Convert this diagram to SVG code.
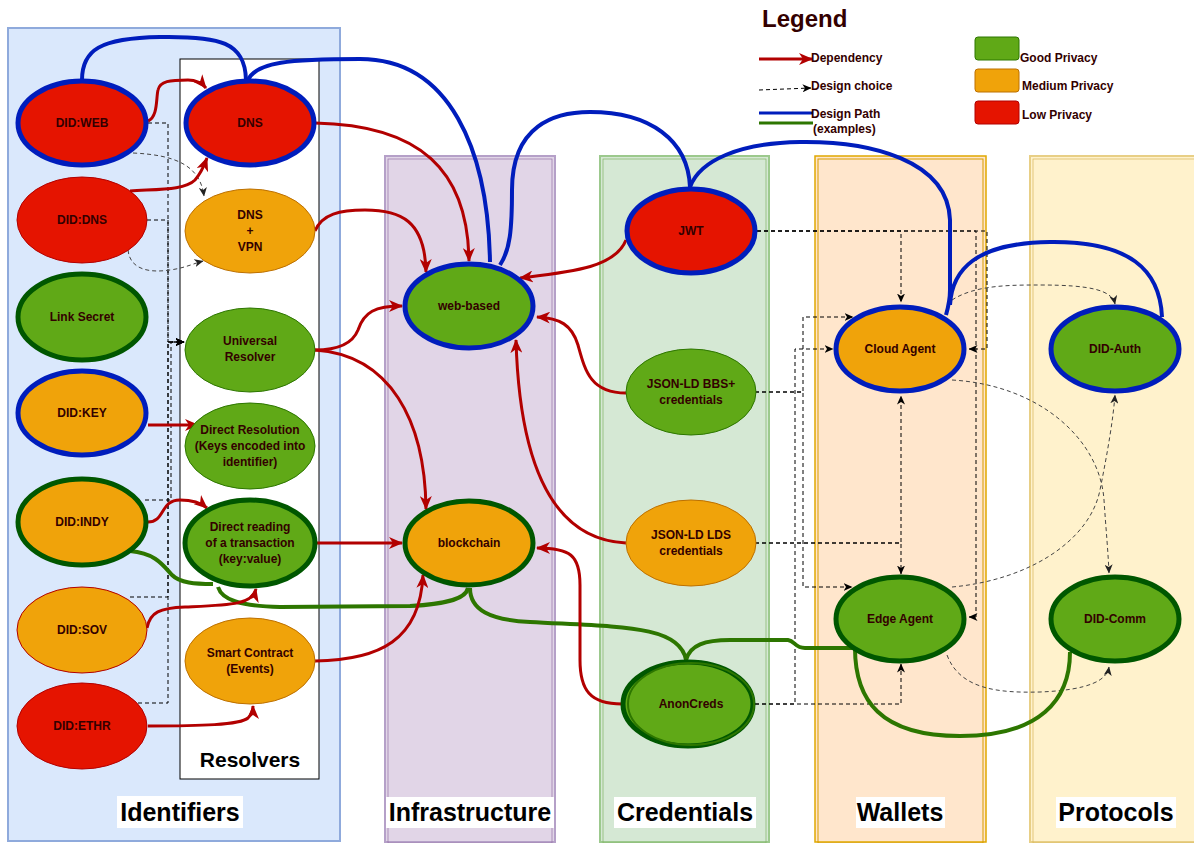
<svg xmlns="http://www.w3.org/2000/svg" width="1194" height="843" viewBox="0 0 1194 843">
<style>
text{font-family:"Liberation Sans",Arial,sans-serif;font-weight:bold}
.nt{font-size:12px;fill:#330000;text-anchor:middle}
.pl{font-size:25px;fill:#000;text-anchor:middle}
.lg{font-size:12px;fill:#330000}
.dep{fill:none;stroke:#b20000;stroke-width:3;marker-end:url(#ar)}
.dc{fill:none;stroke:#000;stroke-width:1;stroke-dasharray:4,3;marker-end:url(#ad)}
.dcg{fill:none;stroke:#444;stroke-width:1;stroke-dasharray:4,3;marker-end:url(#ag)}
.bp{fill:none;stroke:#001dbc;stroke-width:4}
.gp{fill:none;stroke:#2d7600;stroke-width:4}
.red{fill:#e51400}
.org{fill:#f0a30a}
.grn{fill:#60a917}
.thr{stroke:#b20000;stroke-width:1}
.tho{stroke:#bd7000;stroke-width:1}
.thg{stroke:#2d7600;stroke-width:1}
.tkb{stroke:#001dbc;stroke-width:5}
.tkg{stroke:#005700;stroke-width:5}
</style>
<defs>
<marker id="ar" markerUnits="userSpaceOnUse" markerWidth="14" markerHeight="12" refX="13" refY="6" orient="auto">
<path d="M0,0 L14,6 L0,12 L4,6 Z" fill="#b20000"/>
</marker>
<marker id="ad" markerUnits="userSpaceOnUse" markerWidth="9" markerHeight="8" refX="8.5" refY="4" orient="auto">
<path d="M0,0 L9,4 L0,8 L2.5,4 Z" fill="#000"/>
</marker>
<marker id="ag" markerUnits="userSpaceOnUse" markerWidth="9" markerHeight="8" refX="8.5" refY="4" orient="auto">
<path d="M0,0 L9,4 L0,8 L2.5,4 Z" fill="#222"/>
</marker>
</defs>
<rect width="1194" height="843" fill="#fff"/>

<g id="panels">
<rect x="8" y="28" width="332" height="813" fill="#dae8fc" stroke="#8faadc" stroke-width="2"/>
<rect x="180" y="59" width="139" height="720" fill="#fff" stroke="#000" stroke-width="1"/>
<rect x="385" y="156" width="170" height="686" fill="#e1d5e7" stroke="#b5a0c8" stroke-width="2"/>
<rect x="388" y="159" width="164" height="684" fill="none" stroke="#9673a6" stroke-width="0.7"/>
<rect x="600" y="156" width="169" height="686" fill="#d5e8d4" stroke="#9cc98d" stroke-width="2"/>
<rect x="603" y="159" width="163" height="684" fill="none" stroke="#82b366" stroke-width="0.7"/>
<rect x="815" y="156" width="171" height="686" fill="#ffe6cc" stroke="#e0a800" stroke-width="1.5"/>
<rect x="818" y="159" width="165" height="684" fill="none" stroke="#d79b00" stroke-width="1"/>
<rect x="1030" y="156" width="170" height="686" fill="#fff2cc" stroke="#e8cf86" stroke-width="2"/>
<rect x="1033" y="159" width="170" height="684" fill="none" stroke="#d6b656" stroke-width="0.7"/>
<rect x="117" y="796" width="126" height="32" fill="#fff"/>
<text class="pl" x="180" y="821">Identifiers</text>
<text x="250" y="767" style="font-size:21px;text-anchor:middle">Resolvers</text>
<rect x="386" y="797" width="168" height="31" fill="#fff"/>
<text class="pl" x="470" y="821">Infrastructure</text>
<rect x="614" y="797" width="142" height="31" fill="#fff"/>
<text class="pl" x="685" y="821">Credentials</text>
<rect x="856" y="797" width="89" height="31" fill="#fff"/>
<text class="pl" x="900" y="821">Wallets</text>
<rect x="1056" y="797" width="120" height="31" fill="#fff"/>
<text class="pl" x="1116" y="821">Protocols</text>
</g>

<g id="legend">
<text x="762" y="27" style="font-size:24px;fill:#330000">Legend</text>
<path d="M759,59 L812,59" class="dep"/>
<text class="lg" x="811" y="62">Dependency</text>
<path d="M759,90 L811,88" class="dc"/>
<text class="lg" x="811" y="90">Design choice</text>
<path d="M759,113 L813,113" stroke="#001dbc" stroke-width="3" fill="none"/>
<path d="M759,123 L813,123" stroke="#2d7600" stroke-width="3" fill="none"/>
<text class="lg" x="811" y="118">Design Path</text>
<text class="lg" x="813" y="133">(examples)</text>
<rect x="975" y="37" width="44" height="23" rx="3" fill="#60a917" stroke="#2d7600"/>
<text class="lg" x="1020" y="62">Good Privacy</text>
<rect x="975" y="69" width="44" height="23" rx="3" fill="#f0a30a" stroke="#bd7000"/>
<text class="lg" x="1022" y="90">Medium Privacy</text>
<rect x="975" y="101" width="44" height="23" rx="3" fill="#e51400" stroke="#b20000"/>
<text class="lg" x="1022" y="119">Low Privacy</text>
</g>

<g id="connectors">
<!-- design choices (dashed) -->
<path class="dc" d="M148,123 L168,123 L168,342 L184,342"/>
<path class="dc" d="M147,220 L168,220 L168,342 L184,342"/>
<path class="dc" d="M145,500 L171,500 L171,342 L184,342"/>
<path class="dc" d="M130,597 L168,597 L168,342 L184,342"/>
<path class="dc" d="M138,703 L168,703 L168,342 L184,342"/>
<path class="dcg" d="M133,153 C175,155 200,165 204,196"/>
<path class="dcg" d="M128,250 C130,270 150,273 170,270 C185,268 195,263 203,261"/>
<path class="dc" d="M757,231 L901,231 L901,302"/>
<path class="dc" d="M757,231 L987,231 L987,349 L969,349"/>
<path class="dc" d="M757,231 L976,231 L976,617 L969,617"/>
<path class="dc" d="M755,392 L803,392 L803,317 L853,317"/>
<path class="dc" d="M755,392 L803,392 L803,587 L852,587"/>
<path class="dc" d="M755,543 L901,543 L901,396"/>
<path class="dc" d="M755,543 L901,543 L901,574"/>
<path class="dc" d="M755,704 L795,704 L795,349 L833,349"/>
<path class="dc" d="M755,704 L901,704 L901,664"/>
<path class="dcg" d="M952,300 C975,285 1010,285 1040,285 C1090,285 1112,290 1115,304"/>
<path class="dcg" d="M952,380 C1040,385 1100,440 1104,500 C1106,530 1108,550 1109,573"/>
<path class="dcg" d="M952,587 C1030,580 1090,540 1100,490 C1108,450 1113,420 1115,395"/>
<path class="dcg" d="M947,655 C960,690 1000,693 1040,692 C1090,690 1107,680 1109,667"/>
<!-- design paths -->
<path class="bp" d="M82,80 C82,50 100,38 160,37 C220,36 245,42 246,80"/>
<path class="bp" d="M248,80 C256,62 290,59 360,59 C450,59 488,150 490,262"/>
<path class="bp" d="M500,265 C510,250 512,230 512,190 C512,125 555,112 590,112 C650,112 688,140 690,187"/>
<path class="bp" d="M690,187 C700,160 740,143 800,142 C870,141 948,160 950,220 L950,290 C950,300 948,308 946,315"/>
<path class="bp" d="M950,305 C952,270 975,243 1050,242 C1130,241 1160,270 1162,317"/>
<path class="gp" d="M130,551 C155,553 163,565 172,575 C180,583 195,584 213,584"/>
<path class="gp" d="M218,587 C222,600 240,606 280,607 L410,606 C450,604 466,598 468,588"/>
<path class="gp" d="M470,588 C470,610 490,620 530,622 C620,627 680,625 686,660"/>
<path class="gp" d="M686,660 C690,645 705,640 730,640 L788,640 C795,641 795,648 805,648 L855,648"/>
<path class="gp" d="M855,648 C855,700 880,736 960,736 C1040,736 1070,700 1070,652"/>
<!-- dependencies -->
<path class="dep" d="M148,121 C158,117 156,98 158,90 C160,81 170,80 188,80 C195,80 201,82 206,88"/>
<path class="dep" d="M130,191 C160,189 185,190 195,180 C202,172 204,166 207,158"/>
<path class="dep" d="M315,123 C420,125 468,170 469,261"/>
<path class="dep" d="M315,231 C322,214 340,210 365,210 C400,210 425,220 426,272"/>
<path class="dep" d="M315,350 C335,350 352,345 358,330 C364,312 375,306 402,306"/>
<path class="dep" d="M315,350 C390,355 425,420 426,509"/>
<path class="dep" d="M148,425 L198,425"/>
<path class="dep" d="M148,522 C165,522 160,500 180,500 C192,500 200,502 207,508"/>
<path class="dep" d="M316,543 L402,543"/>
<path class="dep" d="M147,628 C150,612 160,608 185,607 C230,605 252,605 256,589"/>
<path class="dep" d="M148,726 C200,726 240,725 248,718 C252,714 253,710 253,706"/>
<path class="dep" d="M315,661 C380,660 420,640 423,575"/>
<path class="dep" d="M626,240 C615,268 570,272 520,278"/>
<path class="dep" d="M626,393 C590,393 585,370 578,345 C572,325 560,318 537,317"/>
<path class="dep" d="M626,543 C560,540 520,480 516,340"/>
<path class="dep" d="M622,704 C590,704 580,690 580,660 L580,585 C580,555 570,548 537,548"/>
</g>

<g id="n-didweb"><ellipse cx="82" cy="123" rx="64" ry="42" class="red tkb"/><text class="nt" x="82" y="127">DID:WEB</text></g>
<g id="n-dns"><ellipse cx="250" cy="123" rx="64" ry="42" class="red tkb"/><text class="nt" x="250" y="127">DNS</text></g>
<g id="n-diddns"><ellipse cx="82" cy="220" rx="65" ry="43" class="red thr"/><text class="nt" x="82" y="224">DID:DNS</text></g>
<g id="n-dnsvpn"><ellipse cx="250" cy="231" rx="65" ry="42" class="org tho"/><text class="nt" x="250" y="219">DNS</text><text class="nt" x="250" y="235">+</text><text class="nt" x="250" y="251">VPN</text></g>
<g id="n-linksecret"><ellipse cx="82" cy="317" rx="64" ry="43" class="grn tkg"/><text class="nt" x="82" y="321">Link Secret</text></g>
<g id="n-universal"><ellipse cx="250" cy="350" rx="65" ry="42" class="grn thg"/><text class="nt" x="250" y="345">Universal</text><text class="nt" x="250" y="361">Resolver</text></g>
<g id="n-didkey"><ellipse cx="82" cy="413" rx="64" ry="42" class="org tkb"/><text class="nt" x="82" y="417">DID:KEY</text></g>
<g id="n-directres"><ellipse cx="250" cy="446" rx="65" ry="43" class="grn thg"/><text class="nt" x="250" y="434">Direct Resolution</text><text class="nt" x="250" y="450">(Keys encoded into</text><text class="nt" x="250" y="466">identifier)</text></g>
<g id="n-didindy"><ellipse cx="82" cy="522" rx="64" ry="43" class="org tkg"/><text class="nt" x="82" y="526">DID:INDY</text></g>
<g id="n-directread"><ellipse cx="250" cy="543" rx="65" ry="43" class="grn tkg"/><text class="nt" x="250" y="531">Direct reading</text><text class="nt" x="250" y="547">of a transaction</text><text class="nt" x="250" y="563">(key:value)</text></g>
<g id="n-didsov"><ellipse cx="82" cy="630" rx="65" ry="43" class="org thr"/><text class="nt" x="82" y="634">DID:SOV</text></g>
<g id="n-smart"><ellipse cx="250" cy="661" rx="65" ry="43" class="org tho"/><text class="nt" x="250" y="657">Smart Contract</text><text class="nt" x="250" y="673">(Events)</text></g>
<g id="n-didethr"><ellipse cx="82" cy="726" rx="65" ry="43" class="red thr"/><text class="nt" x="82" y="730">DID:ETHR</text></g>
<g id="n-webbased"><ellipse cx="469" cy="306" rx="64" ry="42" class="grn tkb"/><text class="nt" x="469" y="310">web-based</text></g>
<g id="n-blockchain"><ellipse cx="469" cy="543" rx="64" ry="42" class="org tkg"/><text class="nt" x="469" y="547">blockchain</text></g>
<g id="n-jwt"><ellipse cx="691" cy="231" rx="64" ry="42" class="red tkb"/><text class="nt" x="691" y="235">JWT</text></g>
<g id="n-bbs"><ellipse cx="691" cy="392" rx="65" ry="43" class="grn thg"/><text class="nt" x="691" y="388">JSON-LD BBS+</text><text class="nt" x="691" y="404">credentials</text></g>
<g id="n-lds"><ellipse cx="691" cy="543" rx="65" ry="43" class="org tho"/><text class="nt" x="691" y="539">JSON-LD LDS</text><text class="nt" x="691" y="555">credentials</text></g>
<g id="n-anoncreds"><ellipse cx="688" cy="704" rx="65" ry="42" class="grn tkg"/><ellipse cx="691" cy="704" rx="63" ry="41" fill="none" stroke="#2d7600" stroke-width="2"/><text class="nt" x="691" y="708">AnonCreds</text></g>
<g id="n-cloud"><ellipse cx="900" cy="349" rx="64" ry="42" class="org tkb"/><text class="nt" x="900" y="353">Cloud Agent</text></g>
<g id="n-edge"><ellipse cx="900" cy="619" rx="64" ry="42" class="grn tkg"/><text class="nt" x="900" y="623">Edge Agent</text></g>
<g id="n-didauth"><ellipse cx="1115" cy="349" rx="64" ry="42" class="grn tkb"/><text class="nt" x="1115" y="353">DID-Auth</text></g>
<g id="n-didcomm"><ellipse cx="1115" cy="619" rx="64" ry="42" class="grn tkg"/><text class="nt" x="1115" y="623">DID-Comm</text></g>
</svg>
